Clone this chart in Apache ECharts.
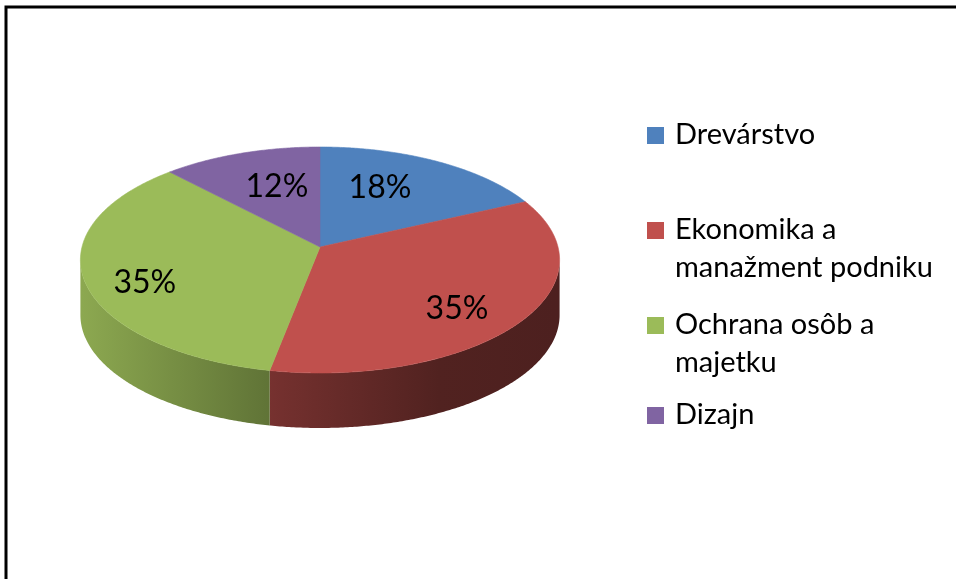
<!DOCTYPE html>
<html><head><meta charset="utf-8">
<script src="https://cdn.jsdelivr.net/npm/echarts@6/dist/echarts.min.js"></script>
<style>html,body{margin:0;padding:0;background:#fff}#c{width:956px;height:579px}</style>
</head><body><div id="c"></div>
<script>
// ---- data ----
const categories = ['Drevárstvo', 'Ekonomika a manažment podniku', 'Ochrana osôb a majetku', 'Dizajn'];
const legendLines = [['Drevárstvo'], ['Ekonomika a', 'manažment podniku'], ['Ochrana osôb a', 'majetku'], ['Dizajn']];
const values = [18, 35, 35, 12];
const labels = ['18%', '35%', '35%', '12%'];

// ---- style ----
const colors = ['#4F81BD', '#C0504D', '#9BBB59', '#8064A2'];
const labelFrac = [[0.516, 0.80], [0.677, 0.725], [0.742, 0.816], [0.544, 0.734]];
// simple perspective projection of a flat disc
const G = { cx: 320, vy: 247, kr: 238, sr: 111.5, p: 0.115, depth: 55 };
const FONT = 'Lato, "Open Sans", sans-serif';

function shade(hex, f) {
  const n = parseInt(hex.slice(1), 16);
  const r = Math.round(((n >> 16) & 255) * f), g = Math.round(((n >> 8) & 255) * f), b = Math.round((n & 255) * f);
  return 'rgb(' + r + ',' + g + ',' + b + ')';
}
function proj(t, f) {
  const a = t * Math.PI / 180;
  const d = 1 + G.p * f * Math.cos(a);
  return [G.cx + f * G.kr * Math.sin(a) / d, G.vy - f * G.sr * Math.cos(a) / d];
}
function rim(t) { return proj(t, 1); }
const total = values.reduce((a, b) => a + b, 0);
const sideA = Math.acos(-G.p) * 180 / Math.PI, sideB = 360 - sideA;

function renderItem(params, api) {
  const i = params.dataIndex;
  let cum = 0;
  for (let k = 0; k < i; k++) cum += values[k];
  const v = api.value(0);
  const a0 = cum / total * 360, a1 = (cum + v) / total * 360;
  const col = colors[i];
  const children = [];
  // side wall
  const s0 = Math.max(a0, sideA), s1 = Math.min(a1, sideB);
  if (s1 > s0) {
    const top = [], bot = [];
    for (let t = s0; t < s1; t += 0.5) top.push(rim(t));
    top.push(rim(s1));
    for (let k = top.length - 1; k >= 0; k--) bot.push([top[k][0], top[k][1] + G.depth]);
    const x0 = G.cx - G.kr, x1 = G.cx + G.kr;
    children.push({
      type: 'polygon', z2: 0,
      shape: { points: top.concat(bot) },
      style: {
        fill: new echarts.graphic.LinearGradient(x0, 0, x1, 0, [
          { offset: 0, color: shade(col, 0.9) },
          { offset: 0.42, color: shade(col, 0.6) },
          { offset: 0.75, color: shade(col, 0.42) },
          { offset: 1, color: shade(col, 0.4) }
        ], true),
        stroke: null
      }
    });
  }
  // top face
  const pts = [[G.cx, G.vy]];
  for (let t = a0; t < a1; t += 0.5) pts.push(rim(t));
  pts.push(rim(a1));
  children.push({
    type: 'polygon', z2: 1,
    shape: { points: pts },
    style: { fill: col, stroke: col, lineWidth: 0.6 }
  });
  // label
  const mid = (a0 + a1) / 2;
  const c = proj(mid, 1);
  const lx = G.cx + labelFrac[i][0] * (c[0] - G.cx);
  const ly = G.vy + labelFrac[i][1] * (c[1] - G.vy) + 12 * labelFrac[i][1];
  children.push({
    type: 'text', z2: 5,
    style: { text: labels[i], x: lx, y: ly, align: 'center', verticalAlign: 'middle',
      font: '32px ' + FONT, fill: '#000' }
  });
  return { type: 'group', children: children };
}

// legend (graphic)
const legendTops = [127, 222, 317, 407];
const legendGraphics = [];
categories.forEach((name, i) => {
  legendGraphics.push({ type: 'rect', left: 647, top: legendTops[i], shape: { width: 17, height: 17 }, style: { fill: colors[i] } });
  legendGraphics.push({ type: 'text', left: 675, top: legendTops[i] - 11,
    style: { text: legendLines[i].join('\n'), font: '29px ' + FONT, lineHeight: 38, fill: '#000' } });
});
legendGraphics.push({ type: 'polyline', shape: { points: [[6, 600], [6, 7], [970, 7]] }, style: { stroke: '#000', lineWidth: 3, fill: null } });

const chart = echarts.init(document.getElementById('c'), null, { renderer: 'canvas' });
chart.setOption({
  backgroundColor: '#fff',
  animation: false,
  series: [{
    type: 'custom',
    coordinateSystem: 'none',
    renderItem: renderItem,
    data: values.map((v, i) => ({ name: categories[i], value: v }))
  }],
  graphic: legendGraphics
});
</script></body></html>
